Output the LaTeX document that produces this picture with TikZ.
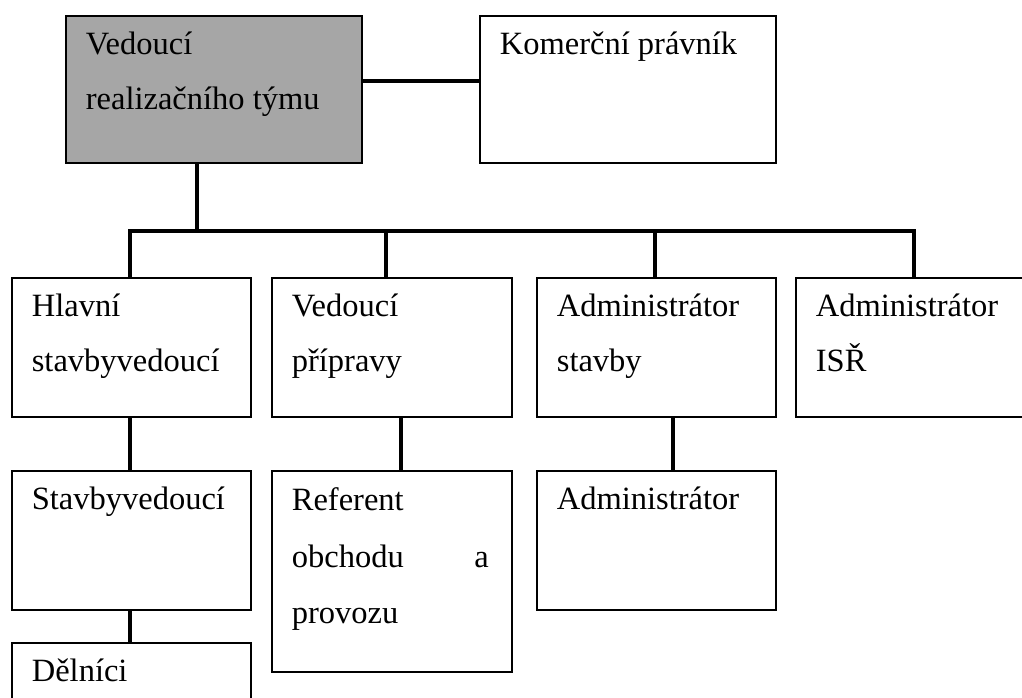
\documentclass[tikz,border=0pt]{standalone}
\usepackage{fontspec}
\setmainfont{Liberation Serif}
\definecolor{leadgray}{RGB}{166,166,166}
\newcommand\tb[3]{\parbox[t][#2][t]{#1}{\raggedright\strut#3}}
\begin{document}
\begin{tikzpicture}[x=1pt,y=-1pt,
  box/.style={draw=black,line width=1.7pt,anchor=north west,inner sep=0pt,
    font=\fontsize{32.5}{55}\selectfont},
  conn/.style={draw=black,line width=4.2pt,line join=miter}]
\useasboundingbox (0,0) rectangle (1022,698);
% top row
\node[box,fill=leadgray,minimum width=296pt,minimum height=147pt] (lead) at (65,15)
  {\tb{256pt}{147pt}{Vedoucí\\realizačního týmu}};
\node[box,minimum width=296pt,minimum height=147pt] (law) at (479,15)
  {\tb{256pt}{147pt}{Komerční právník}};
% second row
\node[box,minimum width=239pt,minimum height=139pt] (b1) at (11,277)
  {\tb{199pt}{139pt}{Hlavní\\stavbyvedoucí}};
\node[box,minimum width=240pt,minimum height=139pt] (b2) at (271,277)
  {\tb{200pt}{139pt}{Vedoucí\\přípravy}};
\node[box,minimum width=239pt,minimum height=139pt] (b3) at (536,277)
  {\tb{199pt}{139pt}{Administrátor\\stavby}};
\node[box,minimum width=239pt,minimum height=139pt] (b4) at (795,277)
  {\tb{199pt}{139pt}{Administrátor\\ISŘ}};
% third row
\node[box,minimum width=239pt,minimum height=139pt] (s1) at (11,470)
  {\tb{199pt}{139pt}{Stavbyvedoucí}};
\node[box,minimum width=240pt,minimum height=201pt,font=\fontsize{32.5}{56.7}\selectfont] (s2) at (271,470)
  {\tb{200pt}{201pt}{Referent\par\hbox to 197pt{obchodu\hfill a}\par provozu}};
\node[box,minimum width=239pt,minimum height=139pt] (s3) at (536,470)
  {\tb{199pt}{139pt}{Administrátor}};
% fourth row
\node[box,minimum width=239pt,minimum height=100pt] (d1) at (11,642)
  {\tb{199pt}{100pt}{Dělníci}};
% connectors
\coordinate (bus) at (0,231);
\draw[conn] ([yshift=8.5pt]lead.east) -- ([yshift=8.5pt]law.west);
\draw[conn] ([xshift=-17pt]lead.south) -- ([xshift=-17pt]lead.south |- bus);
\draw[conn] ([xshift=-1.5pt]b1.north) -- ([xshift=-1.5pt]b1.north |- bus)
  -- ([xshift=-1.5pt]b4.north |- bus) -- ([xshift=-1.5pt]b4.north);
\draw[conn] ([xshift=-6pt]b2.north) -- ([xshift=-6pt]b2.north |- bus);
\draw[conn] ([xshift=-1.5pt]b3.north) -- ([xshift=-1.5pt]b3.north |- bus);
\draw[conn] ([xshift=-1.5pt]b1.south) -- ([xshift=-1.5pt]s1.north);
\draw[conn] ([xshift=9pt]b2.south) -- ([xshift=9pt]s2.north);
\draw[conn] ([xshift=16.5pt]b3.south) -- ([xshift=16.5pt]s3.north);
\draw[conn] ([xshift=-1.5pt]s1.south) -- ([xshift=-1.5pt]d1.north);
\end{tikzpicture}
\end{document}
